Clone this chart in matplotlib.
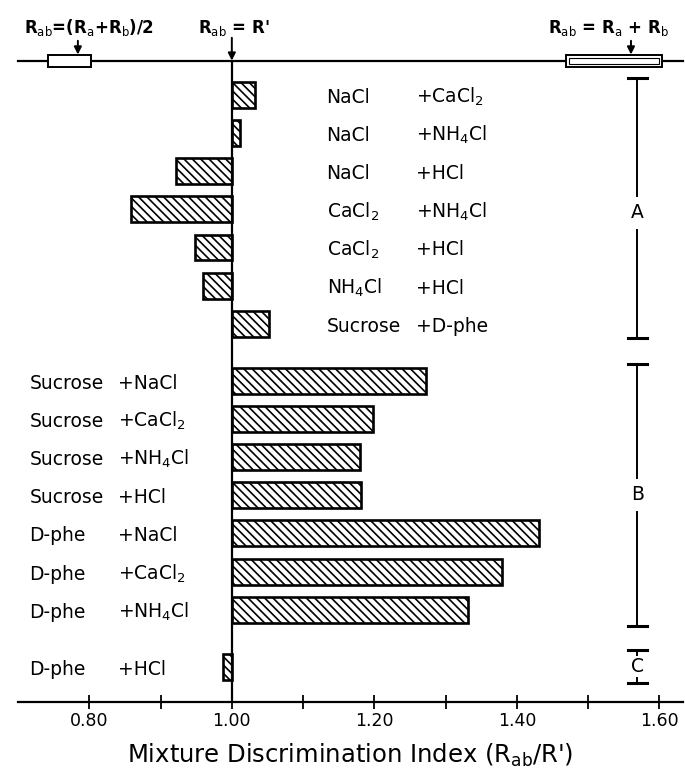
import matplotlib
matplotlib.use("Agg")
import matplotlib.pyplot as plt
from matplotlib.patches import Rectangle
import numpy as np

# Group A: salt/salt mixtures and sucrose + D-phe
a_first = ["NaCl", "NaCl", "NaCl", "CaCl$_2$", "CaCl$_2$", "NH$_4$Cl", "Sucrose"]
a_second = ["+CaCl$_2$", "+NH$_4$Cl", "+HCl", "+NH$_4$Cl", "+HCl", "+HCl", "+D-phe"]
a_values = [1.033, 1.012, 0.921, 0.859, 0.948, 0.959, 1.052]

# Group B
b_first = ["Sucrose", "Sucrose", "Sucrose", "Sucrose", "D-phe", "D-phe", "D-phe"]
b_second = ["+NaCl", "+CaCl$_2$", "+NH$_4$Cl", "+HCl", "+NaCl", "+CaCl$_2$", "+NH$_4$Cl"]
b_values = [1.272, 1.198, 1.180, 1.181, 1.431, 1.379, 1.332]

# Group C
c_first = ["D-phe"]
c_second = ["+HCl"]
c_values = [0.987]

tick_values = [0.8, 0.9, 1.0, 1.1, 1.2, 1.3, 1.4, 1.5, 1.6]
tick_labels = ["0.80", "", "1.00", "", "1.20", "", "1.40", "", "1.60"]

# reference markers on the top axis
half_sum_range = (0.742, 0.803)
half_sum_mark = 0.784
full_sum_range = (1.469, 1.603)
full_sum_mark = 1.560

plt.rcParams['font.family'] = ['DejaVu Sans']
plt.rcParams['mathtext.fontset'] = 'dejavusans'
plt.rcParams['hatch.linewidth'] = 1.2

fig = plt.figure(figsize=(6.85, 7.8), dpi=100)
ax = fig.add_axes([18 / 685, 1 - 702 / 780, 665 / 685, 641 / 780])

pos_a = np.arange(len(a_values))
pos_b = np.arange(len(b_values)) + 7.5
pos_c = np.array([15.0])

bar_h = 0.68
for pos, vals in [(pos_a, a_values), (pos_b, b_values), (pos_c, c_values)]:
    vals = np.array(vals)
    ax.barh(pos, vals - 1.0, left=1.0, height=bar_h, color="white",
            edgecolor="black", linewidth=1.9, hatch="\\\\\\\\", zorder=2)

# pair labels (two columns)
fs = 13.5
for pos, first, second, x1, x2 in [
        (pos_a, a_first, a_second, 1.133, 1.258),
        (pos_b, b_first, b_second, 0.716, 0.841),
        (pos_c, c_first, c_second, 0.716, 0.841)]:
    for y, t1, t2 in zip(pos, first, second):
        ax.text(x1, y + 0.21, t1, fontsize=fs, ha="left", va="baseline")
        ax.text(x2, y + 0.21, t2, fontsize=fs, ha="left", va="baseline")

ax.axvline(1.0, color="black", lw=1.6, zorder=3)

ax.set_xlim(0.70, 1.633)
ax.set_ylim(15.92, -0.89)

for s in ["left", "right"]:
    ax.spines[s].set_visible(False)
for s in ["top", "bottom"]:
    ax.spines[s].set_linewidth(1.6)

ax.set_yticks([])
ax.set_xticks(tick_values)
ax.set_xticklabels(tick_labels, fontsize=12.5)
ax.tick_params(axis="x", direction="inout", length=10, width=1.3, pad=2)
ax.set_xlabel("Mixture Discrimination Index (R$_{\\mathrm{ab}}$/R')",
              fontsize=17.5, labelpad=9)

# group brackets
cap = 0.0135
bx = 1.569
brackets = [("A", -0.45, 6.37, 3.09, 0.45), ("B", 7.05, 13.93, 10.49, 0.45)]
for name, y0, y1, ym, gap in brackets:
    ax.plot([bx, bx], [y0, ym - gap], color="black", lw=1.4)
    ax.plot([bx, bx], [ym + gap, y1], color="black", lw=1.4)
    ax.plot([bx - cap, bx + cap], [y0, y0], color="black", lw=2.2)
    ax.plot([bx - cap, bx + cap], [y1, y1], color="black", lw=2.2)
    ax.text(bx, ym, name, fontsize=13.5, ha="center", va="center")
# small bracket C
ax.plot([bx - cap, bx + cap], [14.55, 14.55], color="black", lw=2.2)
ax.plot([bx - cap, bx + cap], [15.42, 15.42], color="black", lw=2.2)
ax.plot([bx, bx], [14.55, 14.7], color="black", lw=1.4)
ax.plot([bx, bx], [15.3, 15.42], color="black", lw=1.4)
ax.text(bx, 15.0, "C", fontsize=13.5, ha="center", va="center")

# top-axis reference markers
box_h = 0.32
ax.add_patch(Rectangle((half_sum_range[0], -0.89 - box_h / 2),
                       half_sum_range[1] - half_sum_range[0], box_h,
                       facecolor="white", edgecolor="black", lw=1.4,
                       clip_on=False, zorder=4))
ax.add_patch(Rectangle((full_sum_range[0], -0.89 - box_h / 2),
                       full_sum_range[1] - full_sum_range[0], box_h,
                       facecolor="white", edgecolor="black", lw=1.4,
                       clip_on=False, zorder=4))
ax.add_patch(Rectangle((full_sum_range[0] + 0.004, -0.89 - box_h / 4),
                       full_sum_range[1] - full_sum_range[0] - 0.008, box_h / 2,
                       facecolor="white", edgecolor="black", lw=0.8,
                       clip_on=False, zorder=5))

arrow = dict(arrowstyle="-|>", color="black", lw=1.4, mutation_scale=11,
             shrinkA=0, shrinkB=0)
ax.annotate("", xy=(half_sum_mark, -1.06), xytext=(half_sum_mark, -1.42),
            arrowprops=arrow, annotation_clip=False)
ax.annotate("", xy=(1.0, -0.9), xytext=(1.0, -1.5),
            arrowprops=arrow, annotation_clip=False)
ax.annotate("", xy=(full_sum_mark, -1.06), xytext=(full_sum_mark, -1.42),
            arrowprops=arrow, annotation_clip=False)

top_fs = 12
ax.text(0.80, -1.62, "R$_{\\mathrm{ab}}$=(R$_{\\mathrm{a}}$+R$_{\\mathrm{b}}$)/2",
        fontsize=top_fs, ha="center", va="baseline", fontweight="bold")
ax.text(1.003, -1.62, "R$_{\\mathrm{ab}}$ = R'",
        fontsize=top_fs, ha="center", va="baseline", fontweight="bold")
ax.text(1.529, -1.62, "R$_{\\mathrm{ab}}$ = R$_{\\mathrm{a}}$ + R$_{\\mathrm{b}}$",
        fontsize=top_fs, ha="center", va="baseline", fontweight="bold")

fig.savefig("out.png", dpi=100)
